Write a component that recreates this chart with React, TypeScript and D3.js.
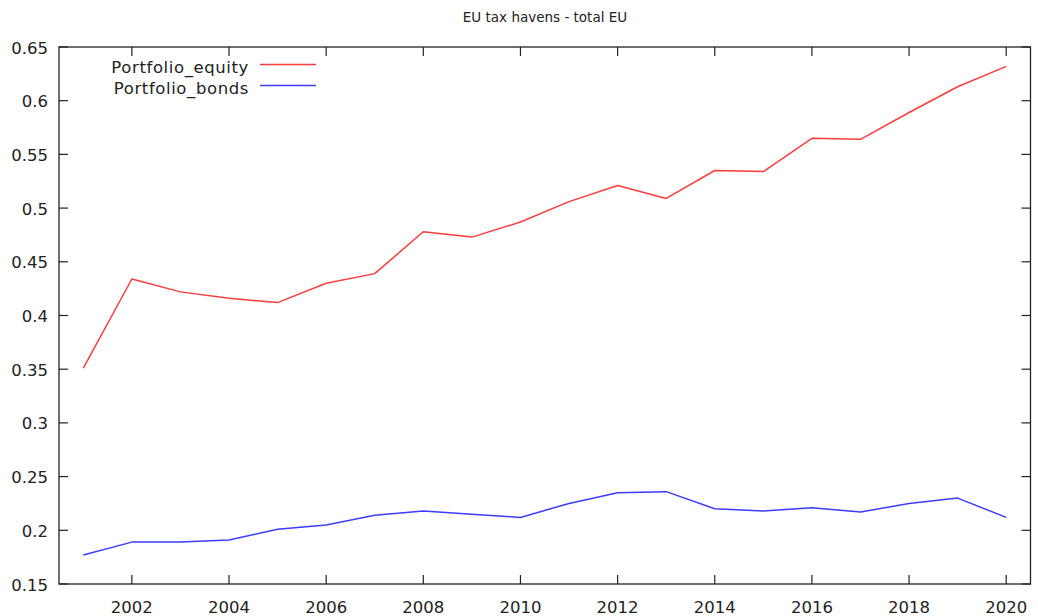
import React from "react";
import * as d3 from "d3";

const years = [2001, 2002, 2003, 2004, 2005, 2006, 2007, 2008, 2009, 2010, 2011, 2012, 2013, 2014, 2015, 2016, 2017, 2018, 2019, 2020];
const equity = [0.351, 0.434, 0.422, 0.416, 0.412, 0.430, 0.439, 0.478, 0.473, 0.487, 0.506, 0.521, 0.509, 0.535, 0.534, 0.565, 0.564, 0.589, 0.613, 0.632];
const bonds = [0.177, 0.189, 0.189, 0.191, 0.201, 0.205, 0.214, 0.218, 0.215, 0.212, 0.225, 0.235, 0.236, 0.220, 0.218, 0.221, 0.217, 0.225, 0.230, 0.212];
const xTicks = [2002, 2004, 2006, 2008, 2010, 2012, 2014, 2016, 2018, 2020];
const yTicks = [0.15, 0.2, 0.25, 0.3, 0.35, 0.4, 0.45, 0.5, 0.55, 0.6, 0.65];
const seriesNames = ["Portfolio_equity", "Portfolio_bonds"];
const colors = ["#ff3c3c", "#3c3cff"];
const title = "EU tax havens - total EU";

export default function App() {
  const W = 1038, H = 616;
  const L = 59, R = 1030.5, T = 47, B = 584;
  const x = d3.scaleLinear().domain([2000.5, 2020.5]).range([L, R]);
  const y = d3.scaleLinear().domain([0.15, 0.65]).range([B, T]);
  const line = d3.line<number>().x((_, i) => x(years[i])).y((d) => y(d));
  const series = [equity, bonds];
  const font = "DejaVu Sans, Verdana, sans-serif";
  const tick = 9;
  const fmt = (v: number) => String(+v.toFixed(2));
  const fs = 16.5;
  return (
    <svg width={W} height={H} style={{ position: "absolute", left: 0, top: 0, background: "#fff" }} fontFamily={font}>
      <rect x={0} y={0} width={W} height={H} fill="#fff" />
      <text x={545} y={22} textAnchor="middle" fontSize={13.5} fill="#222">{title}</text>
      {yTicks.map((t) => (
        <g key={"y" + t}>
          <line x1={L} x2={L + tick} y1={y(t)} y2={y(t)} stroke="#222" strokeWidth={1.2} />
          <line x1={R} x2={R - tick} y1={y(t)} y2={y(t)} stroke="#222" strokeWidth={1.2} />
          <text x={48} y={y(t) + 6.5} textAnchor="end" fontSize={fs} fill="#222">{fmt(t)}</text>
        </g>
      ))}
      {xTicks.map((t) => (
        <g key={"x" + t}>
          <line x1={x(t)} x2={x(t)} y1={B} y2={B - tick} stroke="#222" strokeWidth={1.2} />
          <line x1={x(t)} x2={x(t)} y1={T} y2={T + tick} stroke="#222" strokeWidth={1.2} />
          <text x={x(t)} y={613} textAnchor="middle" fontSize={fs} fill="#222">{t}</text>
        </g>
      ))}
      <rect x={L} y={T} width={R - L} height={B - T} fill="none" stroke="#222" strokeWidth={1.3} />
      {series.map((s, i) => (
        <path key={i} d={line(s) || ""} fill="none" stroke={colors[i]} strokeWidth={1.5} strokeLinejoin="round" />
      ))}
      {seriesNames.map((n, i) => (
        <g key={n}>
          <text x={249} y={73 + i * 21} textAnchor="end" fontSize={fs} letterSpacing={0.6} fill="#222">{n}</text>
          <line x1={260} x2={316} y1={64.5 + i * 21} y2={64.5 + i * 21} stroke={colors[i]} strokeWidth={1.5} />
        </g>
      ))}
    </svg>
  );
}
